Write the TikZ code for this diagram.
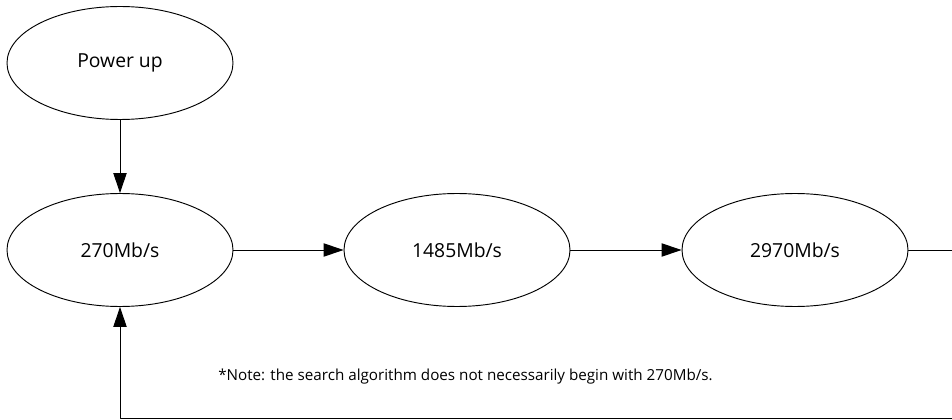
\documentclass[tikz,border=0pt]{standalone}
\usepackage{fontspec}
\setmainfont{Open Sans}
\usetikzlibrary{arrows.meta,shapes.geometric}

\begin{document}
\begin{tikzpicture}[line cap=round,line join=round,>={Triangle[length=15pt,width=10pt]},x=0.75pt,y=-0.75pt,
  rate/.style={draw,ellipse,line width=0.7pt,minimum width=169.5pt,minimum height=84.75pt,inner sep=0pt,font=\fontsize{14.5}{17}\selectfont},
  link/.style={line width=0.7pt}]
\clip(0,0) rectangle (952,420);
\node[rate] (powerup) at (120,63) {Power up};
\node[rate] (r270) at (120,250) {270Mb/s};
\node[rate] (r1485) at (457,250) {1485Mb/s};
\node[rate] (r2970) at (795,250) {2970Mb/s};
\coordinate (edgeright) at (952,250);
\coordinate (loopcorner) at (120,418);
\coordinate (loopright) at (952,418);
\node[anchor=base west,inner sep=0pt,font=\fontsize{11.4}{14}\selectfont] (note) at (218,380) {*Note: the search algorithm does not necessarily begin with 270Mb/s.};
\draw[link,->] (powerup) -- (r270);
\draw[link,->] (r270) -- (r1485);
\draw[link,->] (r1485) -- (r2970);
\draw[link] (r2970) -- (edgeright);
\draw[link,->] (loopright) -- (loopcorner) -- (r270);
\end{tikzpicture}
\end{document}
